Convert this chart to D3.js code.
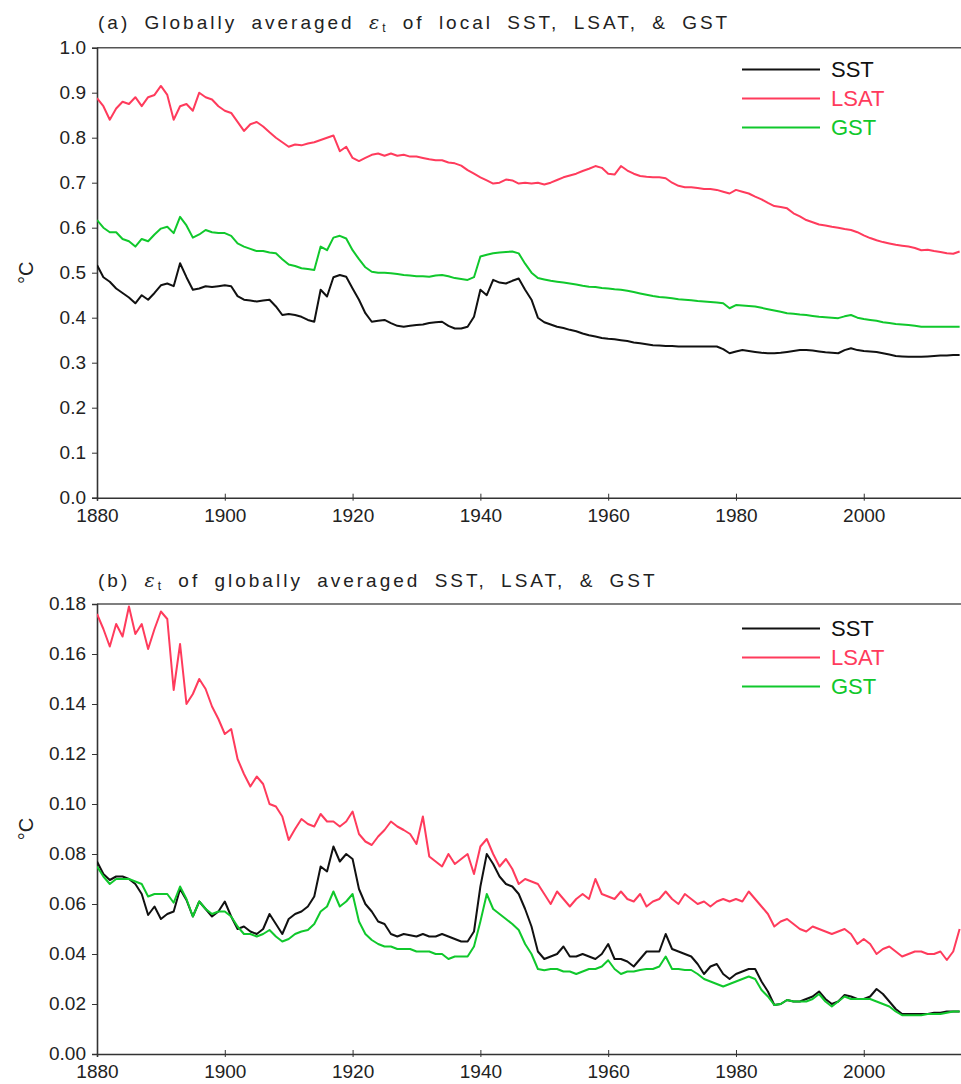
<!DOCTYPE html>
<html>
<head>
<meta charset="utf-8">
<script src="https://cdn.jsdelivr.net/npm/d3@7"></script>
<style>
  body { margin: 0; background: #fff; }
  svg text { font-family: "Liberation Sans", Arial, sans-serif; }
</style>
</head>
<body>
<div id="chart"></div>
<script>
// years 1880..2015, one value per year
var years = d3.range(1880, 2016);

// panel (a): globally averaged error of local series
var sstA = [0.517,0.49,0.48,0.465,0.455,0.445,0.432,0.45,0.44,0.455,0.472,0.476,0.47,0.521,0.49,0.462,0.465,0.47,0.468,0.47,
  0.472,0.47,0.448,0.44,0.438,0.436,0.438,0.44,0.425,0.406,0.408,0.406,0.402,0.395,0.391,0.462,0.447,0.49,0.495,0.491,
  0.465,0.44,0.41,0.391,0.393,0.395,0.388,0.382,0.38,0.382,0.384,0.385,0.388,0.39,0.391,0.382,0.376,0.376,0.38,0.402,
  0.462,0.45,0.484,0.478,0.476,0.482,0.487,0.462,0.44,0.4,0.39,0.385,0.38,0.377,0.373,0.37,0.365,0.361,0.358,0.355,
  0.353,0.352,0.35,0.348,0.345,0.343,0.341,0.339,0.338,0.337,0.337,0.336,0.336,0.336,0.336,0.336,0.336,0.336,0.33,0.321,
  0.325,0.328,0.326,0.324,0.322,0.321,0.321,0.322,0.324,0.326,0.328,0.328,0.327,0.325,0.323,0.322,0.321,0.328,0.332,0.328,
  0.326,0.325,0.324,0.321,0.318,0.315,0.314,0.313,0.313,0.313,0.314,0.315,0.316,0.316,0.317,0.317];
var lsatA = [0.888,0.87,0.84,0.865,0.88,0.875,0.89,0.87,0.89,0.895,0.915,0.895,0.84,0.87,0.875,0.86,0.9,0.89,0.885,0.87,
  0.86,0.855,0.835,0.815,0.83,0.835,0.825,0.812,0.8,0.79,0.78,0.785,0.783,0.787,0.79,0.795,0.8,0.805,0.77,0.78,
  0.755,0.748,0.755,0.762,0.765,0.76,0.765,0.76,0.762,0.758,0.758,0.755,0.752,0.75,0.75,0.745,0.743,0.738,0.728,0.72,
  0.712,0.705,0.698,0.7,0.707,0.705,0.698,0.7,0.698,0.7,0.696,0.7,0.706,0.712,0.716,0.72,0.726,0.731,0.737,0.733,
  0.72,0.718,0.737,0.727,0.72,0.715,0.713,0.712,0.712,0.71,0.7,0.693,0.69,0.69,0.688,0.686,0.686,0.684,0.68,0.676,
  0.684,0.68,0.676,0.669,0.663,0.655,0.648,0.646,0.643,0.632,0.625,0.617,0.612,0.607,0.605,0.602,0.6,0.597,0.595,0.59,
  0.583,0.577,0.572,0.568,0.565,0.562,0.56,0.558,0.555,0.55,0.551,0.548,0.546,0.543,0.542,0.547];
var gstA = [0.617,0.6,0.59,0.59,0.575,0.57,0.558,0.575,0.57,0.585,0.598,0.602,0.588,0.624,0.605,0.578,0.585,0.595,0.59,0.588,
  0.588,0.582,0.565,0.558,0.553,0.548,0.548,0.545,0.543,0.53,0.518,0.515,0.51,0.508,0.506,0.558,0.55,0.578,0.582,0.576,
  0.55,0.53,0.512,0.502,0.5,0.5,0.499,0.497,0.495,0.494,0.492,0.492,0.491,0.494,0.495,0.492,0.488,0.486,0.484,0.49,
  0.536,0.54,0.543,0.545,0.546,0.547,0.543,0.52,0.5,0.488,0.485,0.482,0.48,0.478,0.476,0.474,0.471,0.469,0.468,0.466,
  0.465,0.463,0.462,0.46,0.457,0.454,0.451,0.448,0.446,0.445,0.443,0.441,0.44,0.439,0.437,0.436,0.435,0.434,0.432,0.421,
  0.428,0.427,0.426,0.425,0.422,0.419,0.416,0.413,0.41,0.409,0.407,0.406,0.404,0.402,0.401,0.4,0.399,0.403,0.406,0.4,
  0.397,0.395,0.393,0.39,0.388,0.386,0.385,0.384,0.382,0.38,0.38,0.38,0.38,0.38,0.38,0.38];

// panel (b): error of globally averaged series
var sstB = [0.077,0.072,0.0696,0.071,0.071,0.07,0.068,0.064,0.0556,0.059,0.054,0.056,0.057,0.066,0.0616,0.055,0.061,0.058,0.055,0.057,
  0.061,0.055,0.05,0.051,0.049,0.048,0.05,0.056,0.052,0.048,0.054,0.056,0.057,0.059,0.063,0.075,0.073,0.083,0.077,0.08,
  0.078,0.066,0.06,0.057,0.053,0.052,0.048,0.047,0.048,0.0475,0.047,0.048,0.047,0.047,0.048,0.047,0.046,0.045,0.045,0.049,
  0.067,0.08,0.076,0.071,0.068,0.067,0.064,0.058,0.051,0.041,0.038,0.039,0.04,0.043,0.039,0.039,0.04,0.039,0.038,0.04,
  0.044,0.038,0.038,0.037,0.035,0.038,0.041,0.041,0.041,0.048,0.042,0.041,0.04,0.039,0.036,0.032,0.035,0.036,0.032,0.03,
  0.032,0.033,0.034,0.034,0.029,0.025,0.0196,0.02,0.0216,0.021,0.021,0.022,0.023,0.025,0.022,0.02,0.021,0.0236,0.023,0.022,
  0.022,0.023,0.026,0.024,0.021,0.018,0.016,0.016,0.016,0.016,0.016,0.0165,0.0165,0.017,0.017,0.017];
var lsatB = [0.176,0.17,0.163,0.172,0.167,0.179,0.168,0.172,0.162,0.17,0.177,0.174,0.1456,0.164,0.14,0.144,0.15,0.146,0.139,0.134,
  0.128,0.13,0.118,0.112,0.107,0.111,0.108,0.1,0.099,0.095,0.0856,0.09,0.094,0.092,0.091,0.096,0.093,0.093,0.091,0.093,
  0.097,0.088,0.085,0.0836,0.087,0.0896,0.093,0.091,0.0896,0.088,0.084,0.095,0.079,0.077,0.075,0.08,0.076,0.078,0.08,0.072,
  0.083,0.086,0.08,0.075,0.078,0.074,0.068,0.07,0.069,0.068,0.064,0.06,0.065,0.062,0.059,0.062,0.064,0.062,0.07,0.064,
  0.063,0.062,0.065,0.062,0.061,0.064,0.059,0.061,0.062,0.065,0.062,0.06,0.064,0.062,0.06,0.061,0.059,0.061,0.062,0.061,
  0.062,0.061,0.065,0.062,0.059,0.056,0.051,0.053,0.054,0.052,0.05,0.049,0.051,0.05,0.049,0.048,0.049,0.05,0.048,0.044,
  0.046,0.044,0.04,0.042,0.043,0.041,0.039,0.04,0.041,0.041,0.04,0.04,0.041,0.0376,0.041,0.05];
var gstB = [0.075,0.071,0.068,0.07,0.07,0.07,0.069,0.068,0.063,0.064,0.064,0.064,0.0605,0.067,0.062,0.055,0.061,0.058,0.056,0.057,
  0.057,0.055,0.051,0.048,0.048,0.047,0.048,0.0496,0.047,0.045,0.046,0.048,0.049,0.0496,0.052,0.057,0.059,0.065,0.059,0.061,
  0.064,0.053,0.048,0.0456,0.044,0.043,0.043,0.042,0.042,0.042,0.041,0.041,0.041,0.04,0.04,0.038,0.039,0.039,0.039,0.043,
  0.053,0.064,0.058,0.056,0.054,0.052,0.0496,0.044,0.04,0.034,0.0335,0.034,0.034,0.033,0.033,0.032,0.033,0.034,0.034,0.035,
  0.0375,0.034,0.032,0.033,0.033,0.0336,0.034,0.034,0.035,0.039,0.034,0.034,0.0336,0.0336,0.032,0.03,0.029,0.028,0.027,0.028,
  0.029,0.03,0.031,0.03,0.0256,0.023,0.0196,0.02,0.0216,0.021,0.021,0.021,0.022,0.024,0.021,0.019,0.021,0.023,0.022,0.022,
  0.022,0.022,0.021,0.02,0.019,0.017,0.0155,0.0155,0.0155,0.0155,0.016,0.016,0.016,0.0165,0.017,0.017];

var xTicks = [1880, 1900, 1920, 1940, 1960, 1980, 2000];
var yTicksA = [0, 0.1, 0.2, 0.3, 0.4, 0.5, 0.6, 0.7, 0.8, 0.9, 1.0];
var yTicksB = [0, 0.02, 0.04, 0.06, 0.08, 0.10, 0.12, 0.14, 0.16, 0.18];
var seriesNames = ["SST", "LSAT", "GST"];
var colors = {SST: "#111111", LSAT: "#ff3b5c", GST: "#10c82c"};

var W = 961, H = 1084;
var svg = d3.select("#chart").append("svg")
    .attr("width", W)
    .attr("height", H);

var x = d3.scaleLinear()
    .domain([1880, 2016])
    .range([97, 966]);

function drawPanel(opt) {
  var y = d3.scaleLinear()
      .domain([0, opt.ymax])
      .range([opt.bottom, opt.top]);

  var g = svg.append("g");

  // clip so lines stay in the frame
  svg.append("clipPath").attr("id", opt.id + "clip")
    .append("rect")
      .attr("x", x(1880)).attr("y", opt.top - 1)
      .attr("width", x(2016) - x(1880)).attr("height", opt.bottom - opt.top + 2);

  // top frame line
  g.append("line")
    .attr("x1", x(1880)).attr("x2", W)
    .attr("y1", opt.top).attr("y2", opt.top)
    .attr("stroke", "#555").attr("stroke-width", 1.6);

  var xAxis = g.append("g")
    .attr("transform", "translate(0," + opt.bottom + ")")
    .call(d3.axisBottom(x).tickValues(xTicks).tickFormat(d3.format("d")).tickSize(3).tickPadding(8));
  xAxis.selectAll(".tick line").attr("y1", -4).attr("stroke", "#333");
  xAxis.select(".domain").attr("stroke", "#333").attr("stroke-width", 1.6);
  xAxis.selectAll("text").attr("font-size", 19).attr("fill", "#222");

  var yAxis = g.append("g")
    .attr("transform", "translate(" + x(1880) + ",0)")
    .call(d3.axisLeft(y).tickValues(opt.yTicks).tickFormat(d3.format(opt.fmt)).tickSize(5).tickPadding(6));
  yAxis.select(".domain").attr("stroke", "#333").attr("stroke-width", 1.6);
  yAxis.selectAll(".tick line").attr("stroke", "#333");
  yAxis.selectAll("text").attr("font-size", 19).attr("fill", "#222").attr("dy", "0.3em");

  // y title
  g.append("text")
    .attr("transform", "translate(33," + ((opt.top + opt.bottom) / 2) + ") rotate(-90)")
    .attr("text-anchor", "middle")
    .attr("font-size", 20)
    .attr("fill", "#222")
    .text("°C");

  // panel title
  var t = g.append("text")
    .attr("x", 98).attr("y", opt.titleY)
    .attr("font-family", "DejaVu Sans")
    .attr("font-size", 19)
    .attr("fill", "#222")
    .attr("word-spacing", 6)
    .attr("letter-spacing", 3);
  t.append("tspan").text(opt.title1);
  t.append("tspan").attr("font-family", "DejaVu Serif").attr("font-style", "italic").text("ε");
  t.append("tspan").attr("font-size", 12).attr("dy", 3).text("t");
  t.append("tspan").attr("dy", -3).text(opt.title2);

  var line = d3.line()
      .x(function(d, i) { return x(years[i]); })
      .y(function(d) { return y(d); });

  // draw order: LSAT, SST, GST on top
  [["LSAT", opt.lsat], ["SST", opt.sst], ["GST", opt.gst]].forEach(function(s) {
    g.append("path")
      .datum(s[1])
      .attr("clip-path", "url(#" + opt.id + "clip)")
      .attr("fill", "none")
      .attr("stroke", colors[s[0]])
      .attr("stroke-width", 2)
      .attr("stroke-linejoin", "round")
      .attr("d", line);
  });

  // legend
  var lg = g.append("g");
  seriesNames.forEach(function(n, i) {
    var ly = opt.legendY + i * 29;
    lg.append("line")
      .attr("x1", 742).attr("x2", 820)
      .attr("y1", ly).attr("y2", ly)
      .attr("stroke", colors[n]).attr("stroke-width", 2);
    lg.append("text")
      .attr("x", 831).attr("y", ly)
      .attr("dy", "0.36em")
      .attr("font-size", 22)
      .attr("fill", colors[n])
      .text(n);
  });
}

drawPanel({
  id: "a", top: 47.7, bottom: 497.7, ymax: 1.0, yTicks: yTicksA, fmt: ".1f",
  sst: sstA, lsat: lsatA, gst: gstA,
  title1: "(a) Globally averaged ", title2: " of local SST, LSAT, & GST",
  titleY: 29, legendY: 69.5
});

drawPanel({
  id: "b", top: 604, bottom: 1054, ymax: 0.18, yTicks: yTicksB, fmt: ".2f",
  sst: sstB, lsat: lsatB, gst: gstB,
  title1: "(b) ", title2: " of globally averaged SST, LSAT, & GST",
  titleY: 587, legendY: 628.5
});
</script>
</body>
</html>
